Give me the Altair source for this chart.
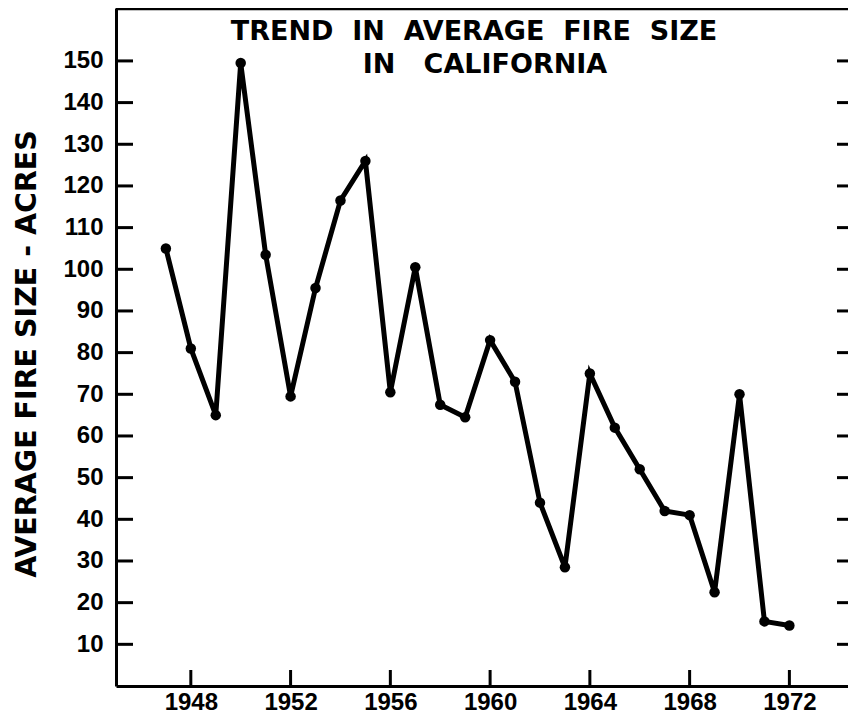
import altair as alt
import pandas as pd

# ---- data ----
YEARS = [1947, 1948, 1949, 1950, 1951, 1952, 1953, 1954, 1955, 1956, 1957, 1958, 1959,
         1960, 1961, 1962, 1963, 1964, 1965, 1966, 1967, 1968, 1969, 1970, 1971, 1972]
SIZES = [105, 81, 65, 149.5, 103.5, 69.5, 95.5, 116.5, 126, 70.5, 100.5, 67.5, 64.5,
         83, 73, 44, 28.5, 75, 62, 52, 42, 41, 22.5, 70, 15.5, 14.5]
Y_TICKS = [10, 20, 30, 40, 50, 60, 70, 80, 90, 100, 110, 120, 130, 140, 150]
X_TICKS = [1948, 1952, 1956, 1960, 1964, 1968, 1972]
TITLE_LINES = ["TREND\u00a0 IN\u00a0 AVERAGE\u00a0 FIRE\u00a0 SIZE",
               "IN\u00a0\u00a0 CALIFORNIA"]
Y_TITLE = "AVERAGE FIRE SIZE - ACRES"

X_DOMAIN = [1945, 1974.35]
Y_DOMAIN = [0, 162.7]
Y_TOPLINE = 162.5

W, H = 732, 678
BLACK = "#000000"
LABEL_FONT = "Liberation Sans"
TITLE_FONT = "DejaVu Sans"

df = pd.DataFrame({"year": YEARS, "size": SIZES})
ytick_df = pd.DataFrame({"v": Y_TICKS})
xtick_df = pd.DataFrame({"yr": X_TICKS})
top_df = pd.DataFrame({"v": [Y_TOPLINE]})

xscale = alt.Scale(domain=X_DOMAIN, nice=False, zero=False)
yscale = alt.Scale(domain=Y_DOMAIN, nice=False, zero=False)

xaxis = alt.Axis(values=X_TICKS, format="d", title=None, ticks=False, tickSize=0,
                 domain=True, domainColor=BLACK, domainWidth=3, grid=False,
                 labelFont=LABEL_FONT, labelFontWeight="bold", labelFontSize=24,
                 labelColor=BLACK, labelPadding=4, labelFlush=False)
yaxis = alt.Axis(values=Y_TICKS, title=Y_TITLE, ticks=False, tickSize=0,
                 domain=True, domainColor=BLACK, domainWidth=3, grid=False,
                 labelFont=LABEL_FONT, labelFontWeight="bold", labelFontSize=24,
                 labelColor=BLACK, labelPadding=13, labelFlush=False,
                 titleFont=TITLE_FONT, titleFontWeight="bold", titleFontSize=28.5,
                 titleColor=BLACK, titleX=-81, titleY=345.5, titleAngle=270,
                 titleAlign="center", titleBaseline="alphabetic")

X = lambda f: alt.X(f, scale=xscale, axis=xaxis)
Y = lambda f: alt.Y(f, scale=yscale, axis=yaxis)

line = alt.Chart(df).mark_line(color=BLACK, strokeWidth=5).encode(
    x=X("year:Q"), y=Y("size:Q"))
dots = alt.Chart(df).mark_circle(color=BLACK, size=110, opacity=1).encode(
    x=X("year:Q"), y=Y("size:Q"))

left_ticks = alt.Chart(ytick_df).mark_rule(color=BLACK, strokeWidth=3).encode(
    y=Y("v:Q"), x=alt.value(0), x2=alt.value(17))
right_ticks = alt.Chart(ytick_df).mark_rule(color=BLACK, strokeWidth=3).encode(
    y=Y("v:Q"), x=alt.value(W - 11), x2=alt.value(W))
bottom_ticks = alt.Chart(xtick_df).mark_rule(color=BLACK, strokeWidth=3).encode(
    x=X("yr:Q"), y=alt.value(H - 16), y2=alt.value(H))
top_line = alt.Chart(top_df).mark_rule(color=BLACK, strokeWidth=3).encode(
    y=Y("v:Q"))

t1 = alt.Chart(pd.DataFrame({"t": [TITLE_LINES[0]]})).mark_text(
    font=TITLE_FONT, fontWeight="bold", fontSize=27, color=BLACK,
    align="center", baseline="alphabetic").encode(
    text="t:N", x=alt.value(358), y=alt.value(31.5))
t2 = alt.Chart(pd.DataFrame({"t": [TITLE_LINES[1]]})).mark_text(
    font=TITLE_FONT, fontWeight="bold", fontSize=27, color=BLACK,
    align="center", baseline="alphabetic").encode(
    text="t:N", x=alt.value(369), y=alt.value(65))

chart = alt.layer(top_line, left_ticks, right_ticks, bottom_ticks, line, dots, t1, t2).properties(
    width=W, height=H,
    autosize=alt.AutoSizeParams(type="none"),
    padding={"left": 108, "top": 0, "right": 0, "bottom": 28},
    background="white",
).configure_view(stroke=None)

chart.save("out.html", embed_options={"renderer": "svg", "actions": False})
